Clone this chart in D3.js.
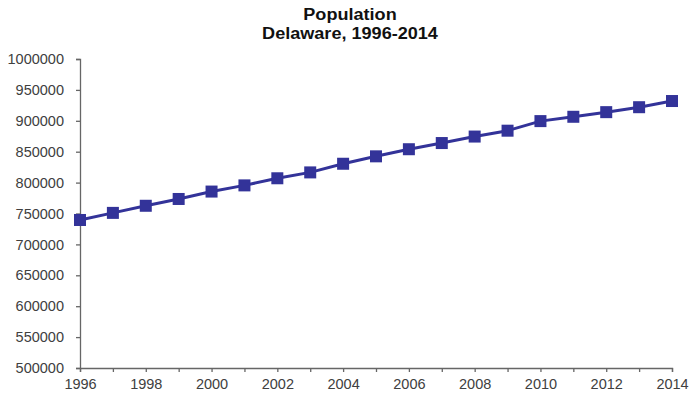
<!DOCTYPE html>
<html>
<head>
<meta charset="utf-8">
<script src="https://cdn.jsdelivr.net/npm/d3@7/dist/d3.min.js"></script>
<style>
  html, body { margin: 0; padding: 0; background: #fff; }
  svg { display: block; }
  text { font-family: "Liberation Sans", Arial, sans-serif; }
</style>
</head>
<body>
<script>
const years = [1996,1997,1998,1999,2000,2001,2002,2003,2004,2005,2006,2007,2008,2009,2010,2011,2012,2013,2014];
const population = [739500,751000,762500,773500,785500,795500,807000,816500,830500,842500,854000,864000,874500,884000,899500,906500,914000,922000,932000];
const yTicks = [500000,550000,600000,650000,700000,750000,800000,850000,900000,950000,1000000];
const xLabelYears = [1996,1998,2000,2002,2004,2006,2008,2010,2012,2014];
const titleLines = ["Population", "Delaware, 1996-2014"];

const W = 690, H = 400;
const m = {left: 80, right: 18, top: 59, bottom: 32};
const FONT = '"Liberation Sans", Arial, sans-serif';

const svg = d3.select("body").append("svg").attr("width", W).attr("height", H);

const x = d3.scaleLinear().domain([1996, 2014]).range([m.left, W - m.right]);
const y = d3.scaleLinear().domain([500000, 1000000]).range([H - m.bottom, m.top]);

// Title (slightly widened like the reference)
svg.append("g").attr("transform", "translate(350,0) scale(1.13,1)")
  .selectAll("text").data(titleLines).join("text")
  .attr("x", 0).attr("y", (d, i) => 20.5 + i * 19)
  .attr("text-anchor", "middle")
  .attr("font-size", 16).attr("font-weight", "bold").attr("fill", "#111")
  .text(d => d);

// Y axis
const yAxis = svg.append("g").attr("transform", `translate(${m.left},0)`)
  .call(d3.axisLeft(y).tickValues(yTicks).tickFormat(d3.format("d")).tickSize(4).tickPadding(12));
yAxis.selectAll("text").attr("font-size", 14.5).attr("fill", "#404040").attr("font-family", FONT);

// X axis
const xAxis = svg.append("g").attr("transform", `translate(0,${H - m.bottom})`)
  .call(d3.axisBottom(x).tickValues(years).tickFormat(d => xLabelYears.includes(d) ? d : "").tickSize(4).tickPadding(7));
xAxis.selectAll("text").attr("font-size", 14.5).attr("fill", "#404040").attr("font-family", FONT);

svg.selectAll(".domain").attr("stroke", "#666").attr("stroke-width", 1.3);
svg.selectAll(".tick line").attr("stroke", "#666").attr("stroke-width", 1.3);

// Line
const line = d3.line().x((d, i) => x(years[i])).y(d => y(d));
svg.append("path").datum(population)
  .attr("d", line).attr("fill", "none")
  .attr("stroke", "#333399").attr("stroke-width", 3);

// Markers
const s = 12;
svg.append("g").selectAll("rect").data(population).join("rect")
  .attr("x", (d, i) => x(years[i]) - s / 2)
  .attr("y", d => y(d) - s / 2)
  .attr("width", s).attr("height", s)
  .attr("fill", "#333399");
</script>
</body>
</html>
